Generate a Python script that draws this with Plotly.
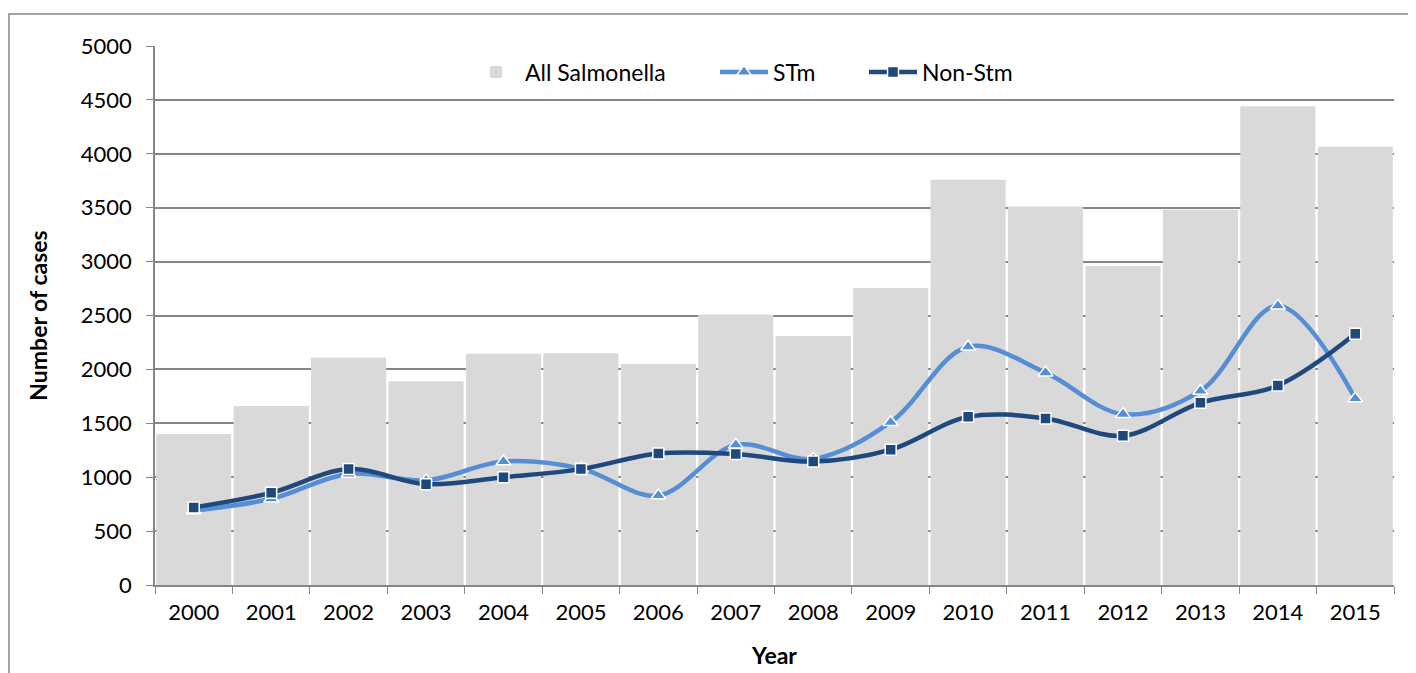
import plotly.graph_objects as go

# ---------- dados ----------
years = [str(y) for y in range(2000, 2016)]
all_salmonella = [1400, 1660, 2110, 1890, 2145, 2150, 2050, 2510,
                  2310, 2755, 3760, 3510, 2960, 3480, 4440, 4065]
stm = [690, 800, 1030, 970, 1145, 1080, 830, 1300,
       1170, 1510, 2210, 1970, 1585, 1800, 2590, 1730]
non_stm = [720, 855, 1075, 935, 1000, 1075, 1220, 1215,
           1145, 1255, 1560, 1545, 1385, 1690, 1850, 2330]

FONT = "Lato"
GRID = "#868686"

fig = go.Figure()

# cada série com sua própria legenda, para posicionar como no Excel
fig.add_trace(go.Bar(
    x=years, y=all_salmonella, name="All Salmonella", legend="legend",
    marker=dict(color="#d9d9d9", line=dict(width=0)),
))

fig.add_trace(go.Scatter(
    x=years, y=stm, name="STm", mode="lines+markers", legend="legend2",
    line=dict(color="#558ed5", width=4.5, shape="spline", smoothing=1),
    marker=dict(symbol="triangle-up", size=13, color="#558ed5",
                line=dict(color="white", width=1.5)),
))

fig.add_trace(go.Scatter(
    x=years, y=non_stm, name="Non-Stm", mode="lines+markers", legend="legend3",
    line=dict(color="#1f497d", width=4.5, shape="spline", smoothing=1),
    marker=dict(symbol="square", size=11, color="#1f497d",
                line=dict(color="white", width=1.5)),
))

# a página tem margem de 8px no body, então a figura é um pouco menor
W, H = 1408, 665
ML, MT, MR, MB = 147, 38, 22, 88
PW, PH = W - ML - MR, H - MT - MB

def leg(px):
    # px = posição horizontal na área do gráfico (em pixels)
    return dict(orientation="h", x=px / PW, xanchor="left",
                y=(PH - 26) / PH, yanchor="middle",
                font=dict(size=23), bgcolor="rgba(0,0,0,0)", itemwidth=48)

fig.update_layout(
    width=W, height=H,
    margin=dict(l=ML, r=MR, t=MT, b=MB),
    paper_bgcolor="white", plot_bgcolor="white",
    font=dict(family=FONT, size=22, color="black"),
    bargap=0.03,
    showlegend=True,
    legend=leg(467 - 155),
    legend2=leg(715 - 155),
    legend3=leg(864 - 155),
)

fig.update_yaxes(
    range=[0, 5000], dtick=500, tick0=0, automargin=False,
    showgrid=True, gridcolor=GRID, gridwidth=1.5,
    showline=True, linecolor=GRID, linewidth=1.5,
    ticks="outside", ticklen=7, tickcolor=GRID, ticklabelstandoff=10,
    zeroline=False,
    title=dict(text="<b>Number of cases</b>", font=dict(size=23), standoff=27),
)

fig.update_xaxes(
    type="category", tickson="boundaries", range=[-0.5, 15.5], automargin=False,
    showgrid=False, showline=True, linecolor=GRID, linewidth=1.5,
    ticks="outside", ticklen=7, tickcolor=GRID, ticklabelstandoff=7,
    title=dict(text="<b>Year</b>", font=dict(size=23), standoff=24),
)

# moldura externa do gráfico (estilo Excel)
fig.add_shape(type="rect", xref="paper", yref="paper",
              x0=-146 / PW, x1=(W - ML + 10) / PW, y0=-(MB + 10) / PH, y1=1 + 32 / PH,
              line=dict(color=GRID, width=1.5), layer="below")

fig.write_html("out.html")
